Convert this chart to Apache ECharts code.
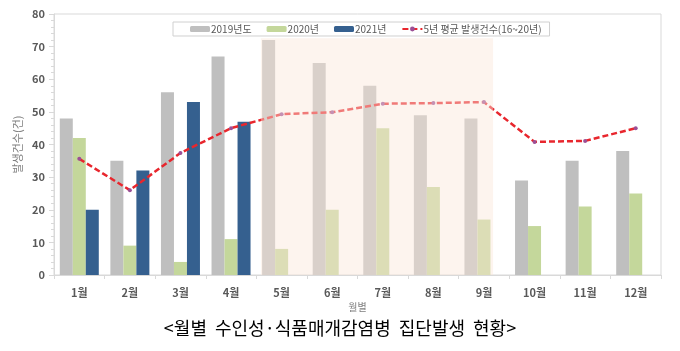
<!DOCTYPE html>
<html>
<head>
<meta charset="utf-8">
<script src="https://cdn.jsdelivr.net/npm/echarts@6/dist/echarts.min.js"></script>
<style>
  html, body { margin: 0; padding: 0; background: #fff; }
  #main { width: 680px; height: 351px; }
</style>
</head>
<body>
<div id="main"></div>
<script>
// 월별 집단발생 건수
const months = ['1월', '2월', '3월', '4월', '5월', '6월', '7월', '8월', '9월', '10월', '11월', '12월']
const y2019 = [48, 35, 56, 67, 72, 65, 58, 49, 48, 29, 35, 38]
const y2020 = [42, 9, 4, 11, 8, 20, 45, 27, 17, 15, 21, 25]
const y2021 = [20, 32, 53, 47, null, null, null, null, null, null, null, null]
const avg5y = [35.6, 26, 37.4, 45, 49.3, 49.9, 52.5, 52.7, 53, 40.8, 41.1, 45]
const yTicks = [0, 80, 10]
// 5~9월 강조 구간 (숨은 value축 기준: 시작, 끝, 높이)
const shadeRange = [[4.09, 8.68, 72.6]]

const chart = echarts.init(document.getElementById('main'))
const labelStyle = { color: '#595959', fontSize: 11, fontWeight: 'bold', fontFamily: 'Noto Sans CJK KR' }

const option = {
  animation: false,
  grid: {
    left: 54, right: 19, top: 14, bottom: 76,
    show: true, borderColor: '#d9d9d9', borderWidth: 1, backgroundColor: '#fff'
  },
  legend: {
    data: ['2019년도', '2020년', '2021년', '5년 평균 발생건수(16~20년)'],
    left: 173, top: 22,
    padding: [2, 8, 2, 17],
    itemWidth: 20, itemHeight: 6, itemGap: 15,
    borderColor: '#d0d0d0', borderWidth: 1, backgroundColor: '#fff',
    textStyle: { color: '#595959', fontSize: 10, fontFamily: 'Noto Sans CJK KR', padding: [0, 0, 0, -4] }
  },
  xAxis: [{
    type: 'category',
    data: months,
    name: '월별',
    nameLocation: 'middle',
    nameGap: 27,
    nameMoveOverlap: false,
    nameTextStyle: { color: '#7f7f7f', fontSize: 10, fontFamily: 'Noto Sans CJK KR' },
    axisLine: { lineStyle: { color: '#d9d9d9' } },
    axisTick: { show: true, length: 4, lineStyle: { color: '#d9d9d9' } },
    axisLabel: Object.assign({ margin: 12 }, labelStyle)
  }, {
    type: 'value', min: 0, max: 12, show: false
  }],
  yAxis: {
    type: 'value',
    min: yTicks[0], max: yTicks[1], interval: yTicks[2],
    name: '발생건수(건)',
    nameLocation: 'middle',
    nameGap: 31,
    nameMoveOverlap: false,
    nameTextStyle: { color: '#7f7f7f', fontSize: 11, fontFamily: 'Noto Sans CJK KR' },
    axisLine: { show: true, lineStyle: { color: '#d9d9d9' } },
    axisTick: { show: true, length: 5, lineStyle: { color: '#d9d9d9' } },
    minorTick: { show: true, splitNumber: 5, length: 3, lineStyle: { color: '#d9d9d9' } },
    splitLine: { show: false },
    axisLabel: Object.assign({ margin: 9 }, labelStyle)
  },
  series: [
    { name: '2019년도', type: 'bar', data: y2019, barWidth: 13, barGap: '0%', itemStyle: { color: '#bfbfbf' } },
    { name: '2020년', type: 'bar', data: y2020, barWidth: 13, itemStyle: { color: '#c4d79b' } },
    { name: '2021년', type: 'bar', data: y2021, barWidth: 13, itemStyle: { color: '#35608f' } },
    {
      name: '5년 평균 발생건수(16~20년)', type: 'line', data: avg5y, z: 5,
      symbol: 'circle', symbolSize: 4,
      lineStyle: { color: '#e8262d', width: 2.5, type: [6, 3] },
      itemStyle: { color: '#9b4f96' }
    },
    {
      // 반투명 덮개 (막대와 선 위에 그림)
      name: 'shade', type: 'custom', xAxisIndex: 1, z: 10, silent: true,
      data: shadeRange,
      renderItem: function (params, api) {
        const p0 = api.coord([api.value(0), 0])
        const p1 = api.coord([api.value(1), api.value(2)])
        return {
          type: 'rect',
          shape: { x: p0[0], y: p1[1], width: p1[0] - p0[0], height: p0[1] - p1[1] },
          style: { fill: 'rgba(250,229,216,0.44)' }
        }
      }
    }
  ],
  graphic: [{
    type: 'text',
    left: 'center',
    top: 319,
    style: {
      text: '<월별  수인성·식품매개감염병  집단발생  현황>',
      fill: '#000',
      fontSize: 18,
      fontFamily: 'Noto Sans CJK KR'
    }
  }]
}
chart.setOption(option)
</script>
</body>
</html>
